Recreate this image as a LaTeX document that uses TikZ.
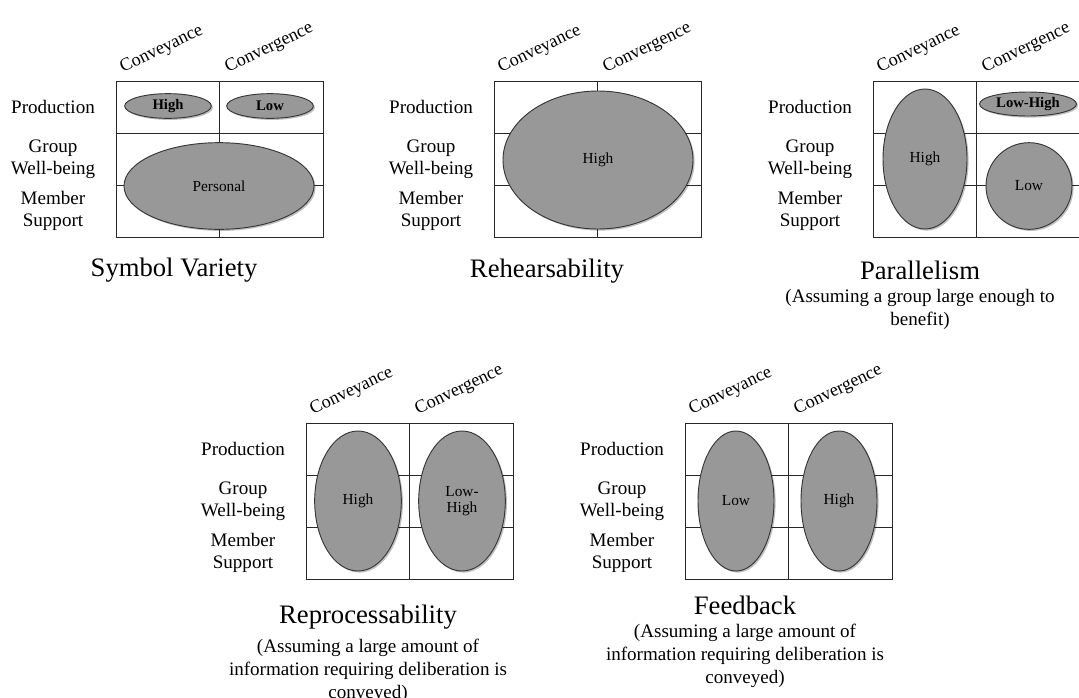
\documentclass[tikz,border=0pt]{standalone}
\usepackage{fontspec}
\setmainfont{Liberation Serif}
\usepackage{tikz}
\usetikzlibrary{shapes.geometric,shadows}

\definecolor{blobfill}{RGB}{152,152,152}
\definecolor{blobedge}{RGB}{55,55,55}
\definecolor{gridline}{RGB}{40,40,40}

\tikzset{
  gridbox/.style={draw=gridline,line width=0.7pt},
  blob/.style={ellipse,draw=blobedge,line width=0.7pt,fill=blobfill,inner sep=0pt,
    drop shadow={shadow xshift=1.2pt,shadow yshift=-1.2pt,opacity=0.25,fill=black},
    font=\fontsize{11.5}{12.5}\selectfont,align=center},
  boldblob/.style={blob,font=\fontsize{11}{12}\selectfont\bfseries},
  rowlab/.style={align=center,inner sep=0pt,font=\fontsize{14.3}{16.5}\selectfont},
  collab/.style={rotate=26,anchor=base west,inner sep=0pt,font=\fontsize{13.6}{15}\selectfont},
  title/.style={inner sep=0pt,font=\fontsize{20}{22}\selectfont},
  note/.style={align=center,inner sep=0pt,font=\fontsize{14.3}{17.2}\selectfont}
}

\begin{document}
\begin{tikzpicture}[x=0.75pt,y=-0.75pt]
\useasboundingbox (0,0) rectangle (1079,697);

\foreach \px/\py/\n in {116/81/sv,494/81/re,873/81/pa,306/423/rp,685/423/fb}{
  \draw[gridbox] (\px,\py) rectangle ++(207,156);
  \draw[gridbox] (\px+103,\py) -- ++(0,156);
  \draw[gridbox] (\px,\py+52) -- ++(207,0);
  \draw[gridbox] (\px,\py+104) -- ++(207,0);
  \node[rowlab] (prod\n) at (\px-63,\py+26) {Production};
  \node[rowlab] (well\n) at (\px-63,\py+78) {Group\\Well-being};
  \node[rowlab] (memb\n) at (\px-63,\py+130) {Member\\Support};
  \node[collab] (conv\n) at (\px+7,\py-8) {Conveyance};
  \node[collab] (cong\n) at (\px+112,\py-8) {Convergence};
}

\node[boldblob,minimum width=65pt,minimum height=18.5pt] (svhigh) at (168,106) {High};
\node[boldblob,minimum width=65pt,minimum height=18.5pt] (svlow) at (270,106) {Low};
\node[blob,minimum width=142.5pt,minimum height=65pt] (svpers) at (219,186) {Personal};
\node[title] (svtitle) at (174,270) {Symbol Variety};

\node[blob,minimum width=142.5pt,minimum height=103.5pt] (rehigh) at (598,160) {High};
\node[title] (retitle) at (547,271) {Rehearsability};

\node[blob,minimum width=63pt,minimum height=105pt] (pahigh) at (925,159) {High};
\node[boldblob,minimum width=72.75pt,minimum height=18pt] (palh) at (1028,104) {Low-High};
\node[blob,minimum width=64.5pt,minimum height=65pt] (palow) at (1029,186) {Low};
\node[title] (patitle) at (920,270) {Parallelism};
\node[note] (panote) at (920,309) {(Assuming a group large enough to\\benefit)};

\node[blob,minimum width=65pt,minimum height=105pt] (rphigh) at (358,501) {High};
\node[blob,minimum width=65pt,minimum height=105pt] (rplh) at (462,501) {Low-\\High};
\node[title] (rptitle) at (368,617) {Reprocessability};
\node[note] (rpnote) at (368,671) {(Assuming a large amount of\\information requiring deliberation is\\conveyed)};

\node[blob,minimum width=57pt,minimum height=105pt] (fblow) at (736,501) {Low};
\node[blob,minimum width=57pt,minimum height=105pt] (fbhigh) at (839,501) {High};
\node[title] (fbtitle) at (745,605) {Feedback};
\node[note] (fbnote) at (745,656) {(Assuming a large amount of\\information requiring deliberation is\\conveyed)};
\end{tikzpicture}
\end{document}
